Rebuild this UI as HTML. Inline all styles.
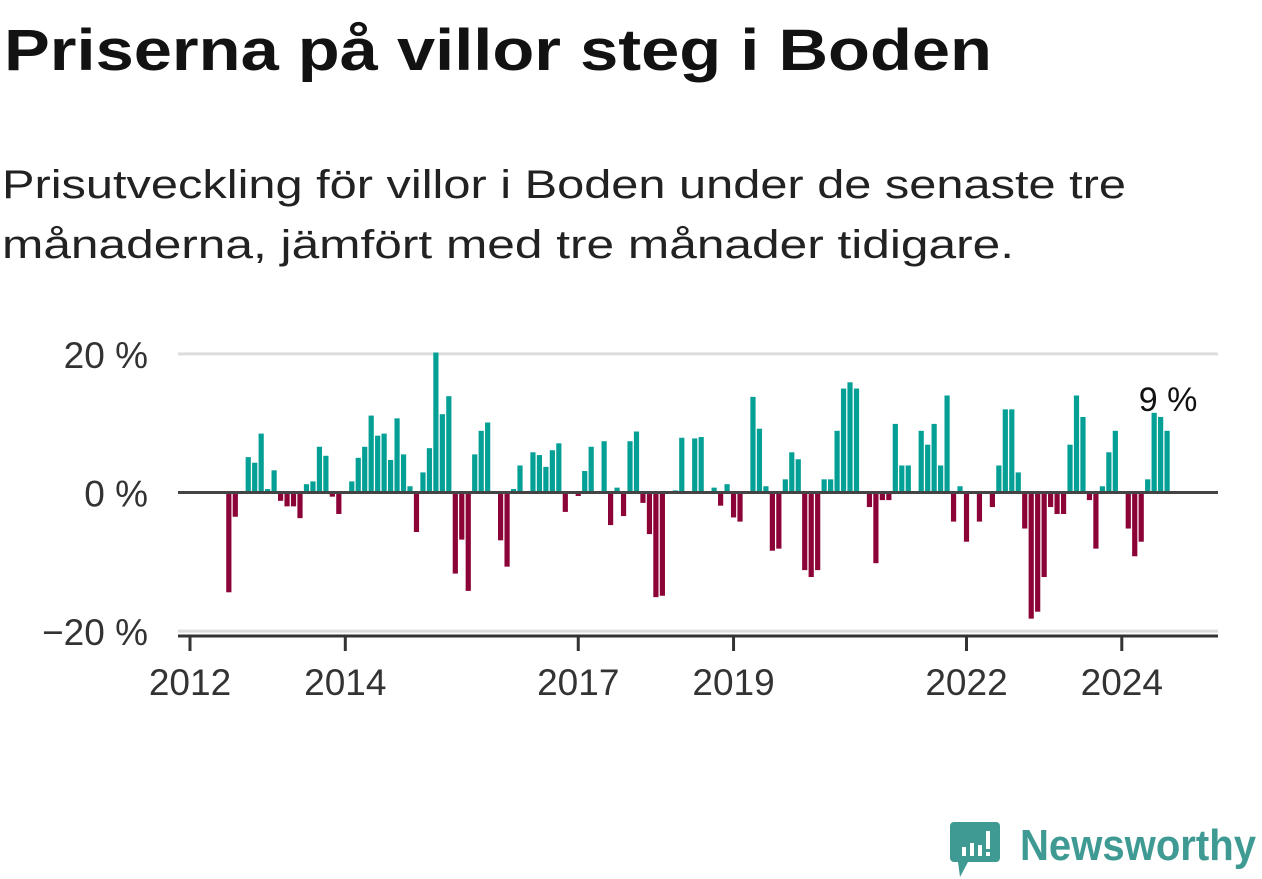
<!DOCTYPE html>
<html><head><meta charset="utf-8"><style>
html,body{margin:0;padding:0;background:#fff;width:1262px;height:879px;overflow:hidden}
svg text{font-family:"Liberation Sans","DejaVu Sans",sans-serif}
</style></head><body>
<svg id="chart" width="1262" height="879" viewBox="0 0 1262 879" xmlns="http://www.w3.org/2000/svg">
<text x="4" y="70" font-size="58" font-weight="bold" fill="#121212" textLength="988" lengthAdjust="spacingAndGlyphs">Priserna på villor steg i Boden</text>
<text x="2" y="198" font-size="40" fill="#222" textLength="1124" lengthAdjust="spacingAndGlyphs">Prisutveckling för villor i Boden under de senaste tre</text>
<text x="2" y="258" font-size="40" fill="#222" textLength="1012" lengthAdjust="spacingAndGlyphs">månaderna, jämfört med tre månader tidigare.</text>
<g id="grid"></g>
<g id="bars"></g>
<g id="axes"></g>
<g>
<path d="M954 822 h42 a4 4 0 0 1 4 4 v32 a4 4 0 0 1 -4 4 h-28 l-8 15 l-2 -15 h-4 a4 4 0 0 1 -4 -4 v-32 a4 4 0 0 1 4 -4z" fill="#3e9a93"/>
<rect x="962" y="847" width="4" height="9" fill="#fff"/><rect x="970" y="843" width="4" height="13" fill="#fff"/><rect x="978" y="845" width="4" height="11" fill="#fff"/><rect x="986" y="831" width="4" height="18" fill="#fff"/><rect x="986" y="852" width="4" height="4" fill="#fff"/>
<text x="1020" y="860" font-size="44" font-weight="bold" fill="#3e9a93" textLength="236" lengthAdjust="spacingAndGlyphs">Newsworthy</text>
</g>
</svg>
<script>
const values = [-14.4,-3.5,0,5.1,4.3,8.5,0.5,3.2,-1.2,-2.0,-2.0,-3.7,1.2,1.6,6.6,5.3,-0.6,-3.1,0,1.6,5.0,6.6,11.1,8.2,8.5,4.7,10.7,5.5,0.9,-5.7,2.9,6.4,20.2,
11.3,13.9,-11.7,-6.8,-14.2,5.5,8.9,10.1,0,-6.9,-10.7,0.5,3.9,0,5.8,5.4,3.7,6.1,7.1,-2.8,0,-0.5,3.1,6.6,0,7.4,-4.7,0.7,-3.4,7.4,8.8,-1.5,-6.0,-15.1,-14.9,0,0.3,7.9,
0,7.8,8.0,0,0.7,-1.9,1.2,-3.6,-4.2,0,13.8,9.2,0.9,-8.4,-8.1,1.9,5.8,4.8,-11.2,-12.2,-11.2,1.9,1.9,8.9,15.0,15.9,15.0,0,-2.1,-10.2,-1.1,-1.1,9.9,3.9,3.9,0,8.9,6.9,9.9,3.9,
14.0,-4.2,0.9,-7.1,0,-4.2,0,-2.1,3.9,12.0,12.0,2.9,-5.2,-18.2,-17.2,-12.2,-2.1,-3.1,-3.1,6.9,14.0,10.9,-1.1,-8.1,0.9,5.8,8.9,0,-5.2,-9.2,-7.1,1.9,11.5,10.9,8.9];
const startYear = 2012, startMonth = 6;
const xTickYears = [2012,2014,2017,2019,2022,2024];
const yTicks = [20,0,-20];
const yTickLabels = ["20 %","0 %","\u221220 %"];
const lastLabel = "9 %";

const NS="http://www.w3.org/2000/svg";
const x0=190, pxPerYear=77.65, y0=492.5, pxPerPct=6.93;
const xScale = t => x0 + (t-2012)*pxPerYear;
const yScale = v => y0 - v*pxPerPct;
function mk(tag, attrs, parent){const e=document.createElementNS(NS,tag);for(const k in attrs)e.setAttribute(k,attrs[k]);parent.appendChild(e);return e;}
const grid=document.getElementById('grid'), bars=document.getElementById('bars'), axes=document.getElementById('axes');
yTicks.forEach((t,i)=>{
  if(t!==0){const l=mk('line',{x1:178,x2:1218,y1:yScale(t),y2:yScale(t),stroke:'#dddddd','stroke-width':3},grid);
  
  }
  const tx=mk('text',{x:148,y:yScale(t)+14,'font-size':37,fill:'#333','text-anchor':'end'},axes);
  tx.textContent=yTickLabels[i];
  
  
});
values.forEach((v,i)=>{
  const cx=xScale(startYear+(startMonth+i)/12);
  const y=Math.min(yScale(v),y0), h=Math.abs(yScale(v)-y0);
  const r=mk('rect',{x:cx-2.6,y:y,width:5.2,height:h,fill:v>=0?'#05a095':'#8c0338'},bars);
  
  
});
const zl=mk('line',{x1:178,x2:1218,y1:y0,y2:y0,stroke:'#444','stroke-width':3},axes);


const al=mk('line',{x1:178,x2:1218,y1:636,y2:636,stroke:'#333','stroke-width':3},axes);


xTickYears.forEach(yv=>{
  const x=xScale(yv);
  const tk=mk('line',{x1:x,x2:x,y1:636,y2:651,stroke:'#333','stroke-width':3},axes);
  
  
  const tx=mk('text',{x:x,y:695,'font-size':37,fill:'#333','text-anchor':'middle'},axes);
  tx.textContent=String(yv);
  
  
});
const li=values.length-1;
const lt=mk('text',{x:xScale(startYear+(startMonth+li)/12)+1,y:yScale(values[li])-20,'font-size':34,fill:'#111','text-anchor':'middle'},axes);
lt.textContent=lastLabel;


</script>
</body></html>
